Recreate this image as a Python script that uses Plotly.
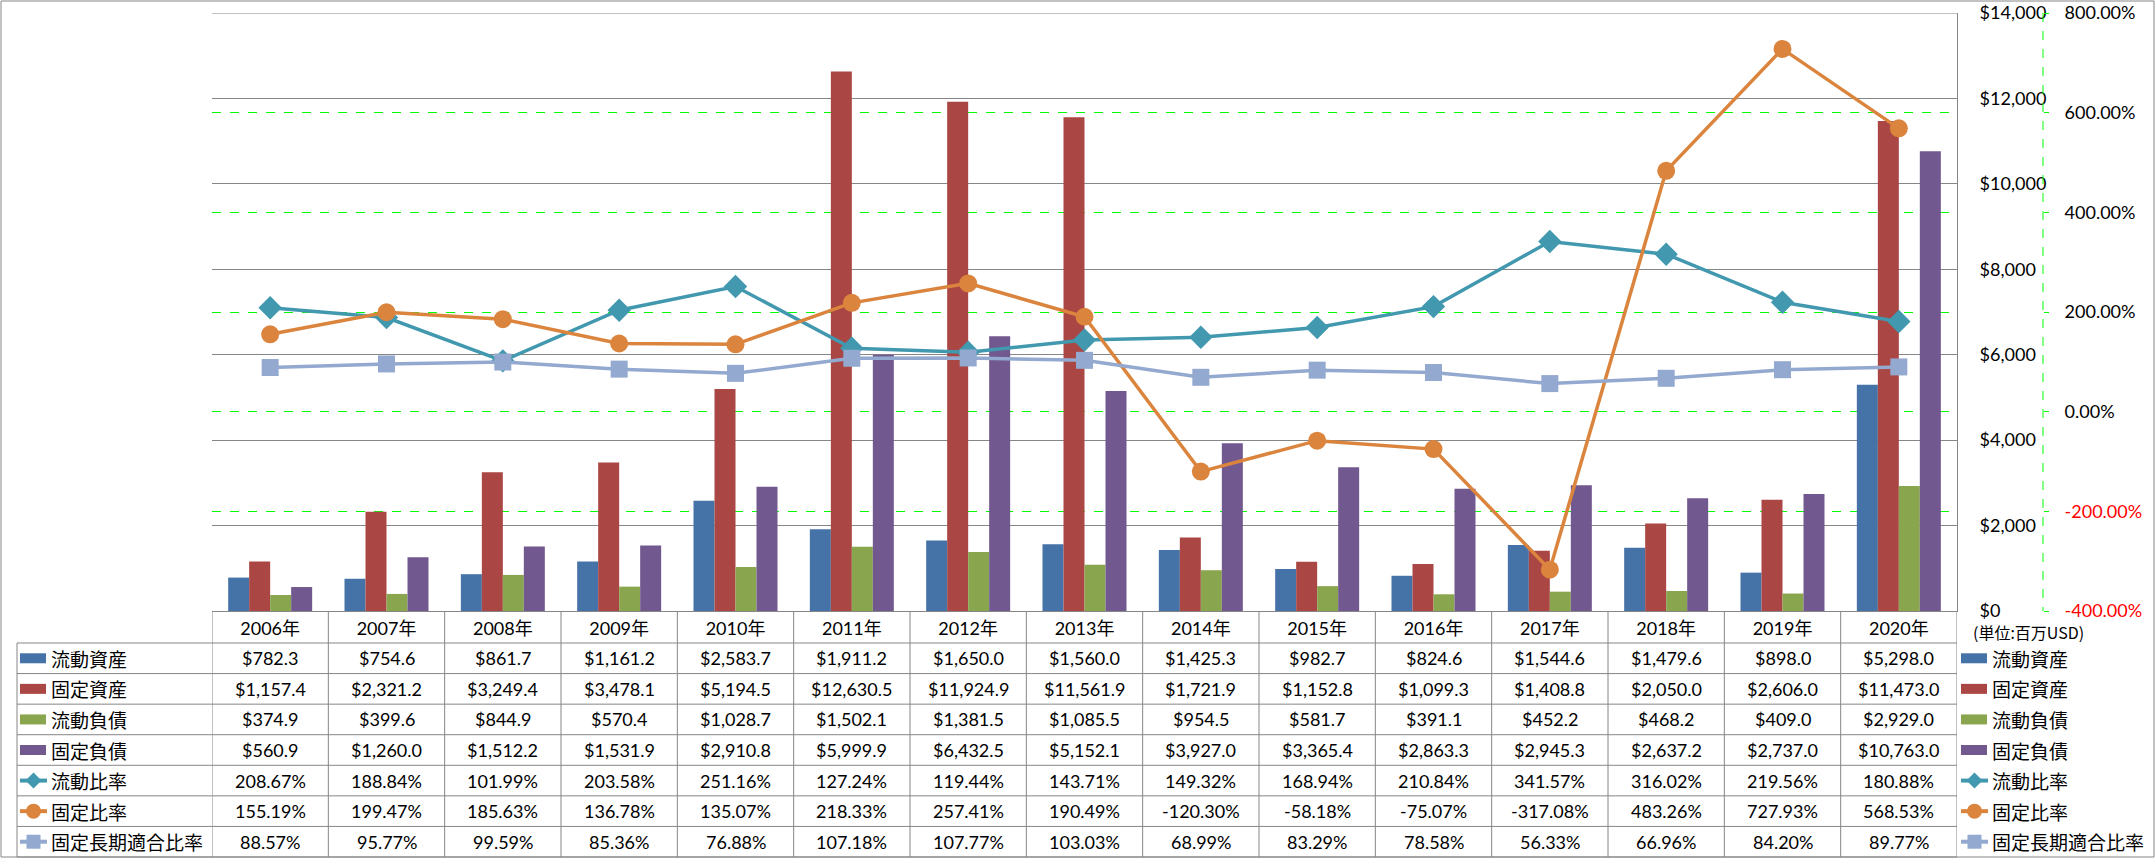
import plotly.graph_objects as go

# ---------------- data ----------------
years = ["2006年", "2007年", "2008年", "2009年", "2010年", "2011年", "2012年", "2013年",
         "2014年", "2015年", "2016年", "2017年", "2018年", "2019年", "2020年"]
current_assets = [782.3, 754.6, 861.7, 1161.2, 2583.7, 1911.2, 1650.0, 1560.0, 1425.3, 982.7, 824.6, 1544.6, 1479.6, 898.0, 5298.0]
fixed_assets = [1157.4, 2321.2, 3249.4, 3478.1, 5194.5, 12630.5, 11924.9, 11561.9, 1721.9, 1152.8, 1099.3, 1408.8, 2050.0, 2606.0, 11473.0]
current_liab = [374.9, 399.6, 844.9, 570.4, 1028.7, 1502.1, 1381.5, 1085.5, 954.5, 581.7, 391.1, 452.2, 468.2, 409.0, 2929.0]
fixed_liab = [560.9, 1260.0, 1512.2, 1531.9, 2910.8, 5999.9, 6432.5, 5152.1, 3927.0, 3365.4, 2863.3, 2945.3, 2637.2, 2737.0, 10763.0]
current_ratio = [208.67, 188.84, 101.99, 203.58, 251.16, 127.24, 119.44, 143.71, 149.32, 168.94, 210.84, 341.57, 316.02, 219.56, 180.88]
fixed_ratio = [155.19, 199.47, 185.63, 136.78, 135.07, 218.33, 257.41, 190.49, -120.30, -58.18, -75.07, -317.08, 483.26, 727.93, 568.53]
fixed_lt_ratio = [88.57, 95.77, 99.59, 85.36, 76.88, 107.18, 107.77, 103.03, 68.99, 83.29, 78.58, 56.33, 66.96, 84.20, 89.77]

bar_names = ["流動資産", "固定資産", "流動負債", "固定負債"]
line_names = ["流動比率", "固定比率", "固定長期適合比率"]
y1_ticks = [0, 2000, 4000, 6000, 8000, 10000, 12000, 14000]
y2_ticks = [-400, -200, 0, 200, 400, 600, 800]
unit_label = "(単位:百万USD)"

# ---------------- style ----------------
W, H = 2156, 858
def px(x): return x / W
def py(y): return 1 - y / H

bar_colors = ["#4572A7", "#AA4643", "#89A54E", "#71588F"]
line_colors = ["#4198AF", "#DB843D", "#93A9CF"]
line_symbols = ["diamond", "circle", "square"]
line_sizes = [18, 18, 17]
GRAY = "#868686"
GREEN = "#00FF00"
NUM_FONT = "Lato, Noto Sans CJK JP, sans-serif"
CJK_FONT = "Noto Sans CJK JP, sans-serif"
NUM_SIZE = 18

PLOT_L, PLOT_R, PLOT_T, PLOT_B = 212, 1957, 13, 611

fig = go.Figure()
bar_series = [current_assets, fixed_assets, current_liab, fixed_liab]
for name, vals, col in zip(bar_names, bar_series, bar_colors):
    fig.add_trace(go.Bar(x=years, y=vals, name=name, marker=dict(color=col, line=dict(width=0)),
                         yaxis="y", showlegend=False))

line_series = [current_ratio, fixed_ratio, fixed_lt_ratio]
for name, vals, col, sym, sz in zip(line_names, line_series, line_colors, line_symbols, line_sizes):
    fig.add_trace(go.Scatter(x=years, y=vals, name=name, mode="lines+markers", yaxis="y2",
                             line=dict(color=col, width=3.5),
                             marker=dict(symbol=sym, size=sz, color=col, line=dict(width=0)),
                             showlegend=False))

def fmt_y2(v):
    s = f"{v:.2f}%"
    if v < 0:
        return f'<span style="color:#FF0000">{s}</span>'
    return s

fig.update_layout(
    width=W, height=H,
    margin=dict(l=0, r=0, t=0, b=0, autoexpand=False),
    paper_bgcolor="white", plot_bgcolor="white",
    barmode="group", bargap=0.278, bargroupgap=0,
    showlegend=False,
    font=dict(family=NUM_FONT, size=NUM_SIZE, color="black"),
    xaxis=dict(domain=[px(PLOT_L), px(PLOT_R)], type="category", range=[-0.5, len(years) - 0.5],
               showgrid=False, automargin=False,
               showline=True, linecolor=GRAY, linewidth=1, ticks="",
               tickfont=dict(family=NUM_FONT, size=NUM_SIZE, color="black"),
               ticklabelstandoff=1, fixedrange=True),
    yaxis=dict(domain=[py(PLOT_B), py(PLOT_T)], range=[0, 14000], side="right", automargin=False,
               tickvals=y1_ticks, ticktext=[f"${v:,}" for v in y1_ticks],
               showline=True, linecolor=GRAY, linewidth=1,
               showgrid=True, gridcolor=GRAY, gridwidth=1, zeroline=False,
               ticks="", ticklabelstandoff=18,
               tickfont=dict(family=NUM_FONT, size=NUM_SIZE, color="black")),
    yaxis2=dict(overlaying="y", side="right", anchor="free", position=px(2043), automargin=False,
                range=[-400, 800], tickvals=y2_ticks, ticktext=[fmt_y2(v) for v in y2_ticks],
                showline=False, showgrid=True, gridcolor=GREEN, gridwidth=1, griddash="dash",
                zeroline=False, ticks="outside", ticklen=5, tickcolor=GREEN, tickwidth=1,
                ticklabelstandoff=12,
                tickfont=dict(family=NUM_FONT, size=NUM_SIZE, color="black")),
)

shapes = []
annotations = []

# outer border
shapes.append(dict(type="rect", xref="paper", yref="paper", x0=px(1), x1=px(2154), y0=py(1), y1=py(857),
                   line=dict(color=GRAY, width=1), fillcolor="rgba(0,0,0,0)", layer="above"))
# top gridline of the primary axis (edge of the range)
shapes.append(dict(type="line", xref="x domain", yref="y", x0=0, x1=1, y0=y1_ticks[-1], y1=y1_ticks[-1],
                   line=dict(color=GRAY, width=1), layer="below"))
# secondary axis dashed line
shapes.append(dict(type="line", xref="paper", yref="paper", x0=px(2043), x1=px(2043), y0=py(PLOT_T), y1=py(PLOT_B),
                   line=dict(color=GREEN, width=1, dash="dash")))

# table grid
TBL_L = 17
row_b = [643 + i * (857 - 643) / 7 for i in range(8)]
for k in range(len(years) + 1):
    shapes.append(dict(type="line", xref="x", yref="paper", x0=k - 0.5, x1=k - 0.5, y0=py(PLOT_B), y1=py(857),
                       line=dict(color=GRAY, width=1)))
shapes.append(dict(type="line", xref="paper", yref="paper", x0=px(TBL_L), x1=px(TBL_L), y0=py(row_b[0]), y1=py(857),
                   line=dict(color=GRAY, width=1)))
for yb in row_b:
    shapes.append(dict(type="line", xref="paper", yref="paper", x0=px(TBL_L), x1=px(PLOT_R), y0=py(yb), y1=py(yb),
                       line=dict(color=GRAY, width=1)))

row_centers = [(row_b[i] + row_b[i + 1]) / 2 for i in range(7)]

# table values
all_series = bar_series + line_series
for r, vals in enumerate(all_series):
    for i, v in enumerate(vals):
        txt = f"${v:,.1f}" if r < 4 else f"{v:.2f}%"
        annotations.append(dict(x=years[i], xref="x", y=py(row_centers[r]), yref="paper", text=txt,
                                showarrow=False, xanchor="center", yanchor="middle",
                                font=dict(family=NUM_FONT, size=NUM_SIZE, color="black")))

# legend glyphs (left table column and right legend)
all_names = bar_names + line_names
all_colors = bar_colors + line_colors

def add_glyph(x0, cy, idx):
    col = all_colors[idx]
    if idx < 4:
        shapes.append(dict(type="rect", xref="paper", yref="paper", x0=px(x0), x1=px(x0 + 26),
                           y0=py(cy + 5), y1=py(cy - 5), fillcolor=col, line=dict(width=0)))
    else:
        shapes.append(dict(type="line", xref="paper", yref="paper", x0=px(x0), x1=px(x0 + 27),
                           y0=py(cy), y1=py(cy), line=dict(color=col, width=4)))
        cx = x0 + 13.5
        sym = line_symbols[idx - 4]
        if sym == "diamond":
            r = 8
            path = (f"M {px(cx)},{py(cy - r)} L {px(cx + r)},{py(cy)} L {px(cx)},{py(cy + r)} "
                    f"L {px(cx - r)},{py(cy)} Z")
            shapes.append(dict(type="path", xref="paper", yref="paper", path=path,
                               fillcolor=col, line=dict(width=0)))
        elif sym == "circle":
            r = 7.5
            shapes.append(dict(type="circle", xref="paper", yref="paper", x0=px(cx - r), x1=px(cx + r),
                               y0=py(cy + r), y1=py(cy - r), fillcolor=col, line=dict(width=0)))
        else:
            r = 7
            shapes.append(dict(type="rect", xref="paper", yref="paper", x0=px(cx - r), x1=px(cx + r),
                               y0=py(cy + r), y1=py(cy - r), fillcolor=col, line=dict(width=0)))

for i, name in enumerate(all_names):
    cy = row_centers[i]
    add_glyph(20, cy, i)
    annotations.append(dict(x=px(49), xref="paper", y=py(cy), yref="paper", text=name, showarrow=False,
                            xanchor="left", yanchor="middle", font=dict(family=CJK_FONT, size=19, color="black")))
    add_glyph(1961, cy, i)
    annotations.append(dict(x=px(1990), xref="paper", y=py(cy), yref="paper", text=name, showarrow=False,
                            xanchor="left", yanchor="middle", font=dict(family=CJK_FONT, size=19, color="black")))

annotations.append(dict(x=px(1971), xref="paper", y=py(632), yref="paper", text=unit_label, showarrow=False,
                        xanchor="left", yanchor="middle", font=dict(family=CJK_FONT, size=16, color="black")))

fig.update_layout(shapes=shapes, annotations=annotations)
fig.write_html("out.html", config={"displayModeBar": False},
               post_script="document.body.style.margin='0';document.body.style.padding='0';document.body.style.overflow='hidden';")
